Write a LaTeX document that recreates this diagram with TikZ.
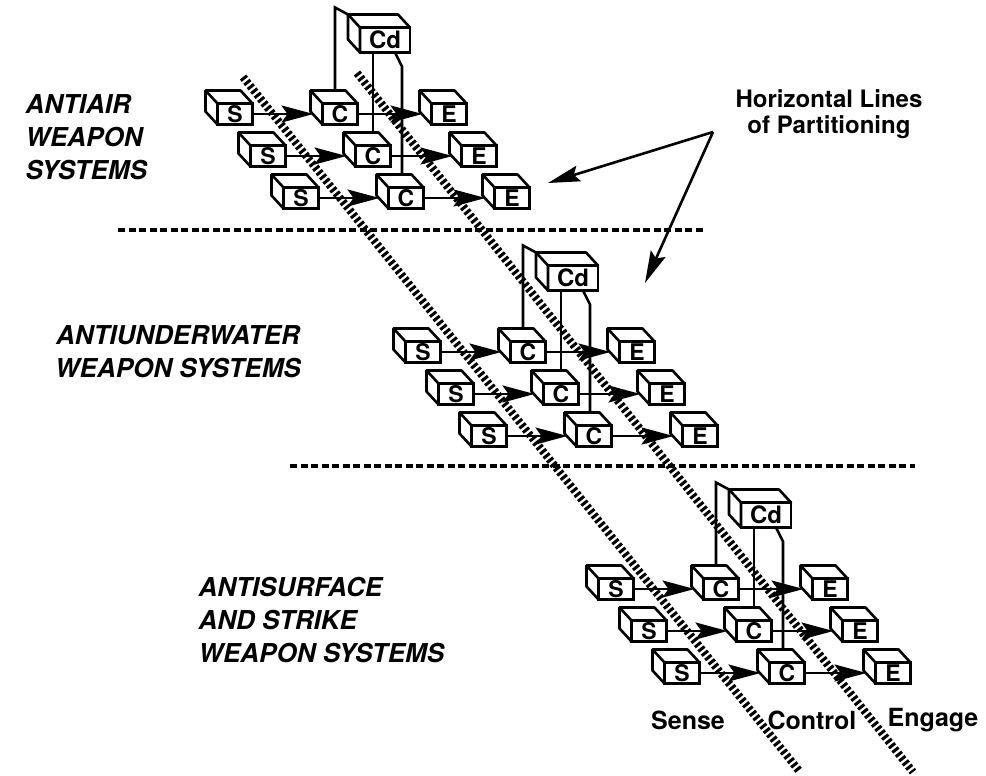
\documentclass[tikz,border=0pt]{standalone}
\usepackage{fontspec}
\setmainfont{TeX Gyre Heros}
\usetikzlibrary{arrows.meta,calc}
\pgfdeclarelayer{back}
\pgfsetlayers{back,main}

\begin{document}
\begin{tikzpicture}[x=1pt, y=-1pt,
    box/.style={draw, fill=white, line width=2.6pt, outer sep=0pt, inner sep=0pt,
        minimum width=35pt, minimum height=21pt, font=\bfseries\fontsize{23}{23}\selectfont},
    cdbox/.style={box, minimum width=50pt, minimum height=25pt, font=\bfseries\fontsize{24}{24}\selectfont},
    depth/.style={draw, fill=white, line width=2.6pt, line join=round},
    wire/.style={line width=2.6pt},
    flow/.style={line width=2.6pt, -{Stealth[length=32pt, width=17pt, inset=6pt]}},
    pointer/.style={line width=2.6pt, -{Stealth[length=32pt, width=16pt, inset=5pt]}},
    hatch/.style={line width=8pt, dash pattern=on 3pt off 2.5pt},
    partline/.style={line width=4pt, dash pattern=on 7pt off 3.5pt},
    title/.style={font=\bfseries\itshape\fontsize{26}{33}\selectfont},
    tag/.style={font=\bfseries\fontsize{25}{25}\selectfont},
    note/.style={font=\bfseries\fontsize{24}{26}\selectfont, align=center}
]
    \useasboundingbox (0,0) rectangle (986,776);

    % =====================================================
    % THE THREE WEAPON GROUPS (boxes)
    % =====================================================
    \foreach \g/\gx/\gy in {a/0/0, b/188/238, c/381/475} {
        \begin{scope}[shift={(\gx,\gy)}]
            % Coordination box
            \node[cdbox] (cd\g) at (385,40) {Cd};
            % Sense / Control / Engage rows
            \foreach \r/\sx/\cx/\ex/\y in {1/235/340/449/114, 2/268/373/479/156, 3/301/406/512/198} {
                \node[box] (s\r\g) at (\sx,\y) {S};
                \node[box] (c\r\g) at (\cx,\y) {C};
                \node[box] (e\r\g) at (\ex,\y) {E};
            }
        \end{scope}
        % Top and side faces
        \foreach \n in {cd,s1,s2,s3,c1,c2,c3,e1,e2,e3} {
            \draw[depth] (\n\g.south west) -- ($(\n\g.south west)+(-12,-13)$)
                |- ($(\n\g.north east)+(-12,-13)$) -- (\n\g.north east) -- (\n\g.north west) -- cycle;
            \draw[depth] (\n\g.north west) -- ++(-12,-13);
        }
    }

    % =====================================================
    % CONNECTORS (behind the boxes)
    % =====================================================
    \begin{pgfonlayer}{back}
        \foreach \g in {a,b,c} {
            \foreach \r in {1,2,3} {
                \draw[flow] (s\r\g.east) -- ([xshift=-9pt]c\r\g.west);
                \draw[flow] (c\r\g.east) -- ([xshift=-9pt]e\r\g.west);
            }
            % Coordination lines
            \draw[wire] ($(cd\g.north west)+(-12,-13)$) -- ++(-13,-7) -- ([xshift=-5pt]c1\g.center);
            \draw[wire] (cd\g.south -| c2\g) -- (c2\g.center);
            \draw[wire] ([xshift=10pt]cd\g.south) -- ++(7,14) -- ([xshift=-4pt]c3\g.center);
        }

        % Vertical lines of partitioning
        \coordinate (sensecut) at (243,77);
        \coordinate (sensecutend) at (800,772);
        \coordinate (engagecut) at (357,73);
        \coordinate (engagecutend) at (913,772);
        \draw[hatch] (sensecut) -- (sensecutend);
        \draw[hatch] (engagecut) -- (engagecutend);
    \end{pgfonlayer}

    % Horizontal lines of partitioning
    \draw[partline] (118,230) -- (705,230);
    \draw[partline] (290,466) -- (915,466);

    % =====================================================
    % LABELS
    % =====================================================
    \node[title, anchor=west, align=left] (antiair) at (22,137) {ANTIAIR\\WEAPON\\SYSTEMS};
    \node[title, align=center] (antiunder) at (178,352) {ANTIUNDERWATER\\WEAPON SYSTEMS};
    \node[title, anchor=west, align=left] (antisurf) at (195,620) {ANTISURFACE\\AND STRIKE\\WEAPON SYSTEMS};

    \node[note] (partition) at (829,114) {Horizontal Lines\\of Partitioning};
    \coordinate (partfoot) at (713,132);
    \coordinate (tipair) at (548,183);
    \coordinate (tipunder) at (645,283);
    \draw[pointer] (partfoot) -- (tipair);
    \draw[pointer] (partfoot) -- (tipunder);

    \node[tag] (sense) at (688,720) {Sense};
    \node[tag] (control) at (812,720) {Control};
    \node[tag] (engage) at (933,720) {Engage};

\end{tikzpicture}
\end{document}
